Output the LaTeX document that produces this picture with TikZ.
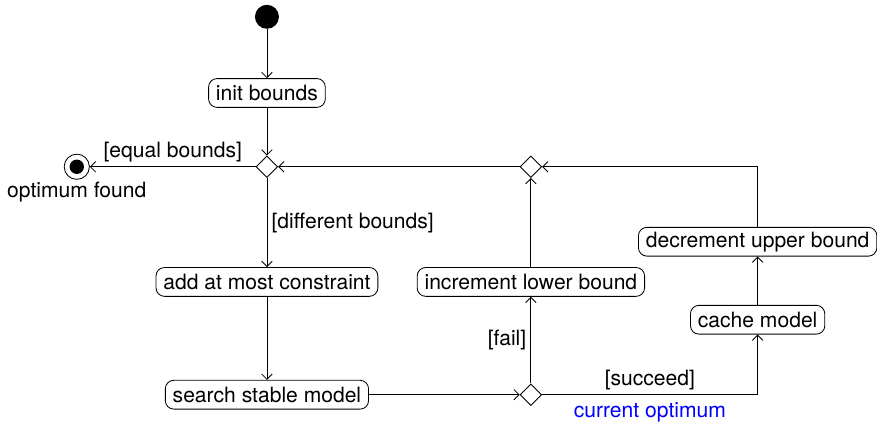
\documentclass[tikz,border=0pt]{standalone}
\usepackage{fontspec}
\setmainfont{TeX Gyre Heros}
\usetikzlibrary{arrows.meta,shapes.geometric}

\begin{document}
\begin{tikzpicture}[
  flow/.style={-{Straight Barb[length=2.5pt,width=5pt]}},
  action/.style={draw,rounded corners=4pt,minimum height=0.48cm,inner xsep=3.5pt,inner ysep=1pt},
  decision/.style={draw,diamond,minimum size=0.36cm,inner sep=0pt},
  guard/.style={inner sep=2pt}]
  \useasboundingbox (0,0) rectangle (14.62,-7.02);
  % start / stop
  \node[circle,fill,minimum size=0.4cm,inner sep=0pt] (start) at (4.45,-0.28) {};
  \node[circle,draw,minimum size=0.42cm,inner sep=0pt] (fin) at (1.28,-2.78) {};
  \fill (fin) circle (0.12);
  \node (finlab) at (1.28,-3.2) {optimum found};
  % actions
  \node[action] (init) at (4.45,-1.55) {init bounds};
  \node[action] (add) at (4.45,-4.7) {add at most constraint};
  \node[action] (search) at (4.45,-6.58) {search stable model};
  \node[action] (inc) at (8.85,-4.7) {increment lower bound};
  \node[action] (cache) at (12.63,-5.33) {cache model};
  \node[action] (dec) at (12.63,-4.03) {decrement upper bound};
  % branches
  \node[decision] (d1) at (4.45,-2.78) {};
  \node[decision] (d3) at (8.85,-2.78) {};
  \node[decision] (d2) at (8.85,-6.58) {};

  \draw[flow] (start) -- (init);
  \draw[flow] (init) -- (d1);
  \draw[flow] (d1) -- node[guard,above] {[equal bounds]} (fin);
  \draw[flow] (d1) -- node[guard,right] {[different bounds]} (add);
  \draw[flow] (add) -- (search);
  \draw[flow] (search) -- (d2);
  \draw[flow] (d2) -- node[guard,left] {[fail]} (inc);
  \draw[flow] (inc) -- (d3);
  \draw[flow] (d2) -| node[guard,pos=0.25,above] {[succeed]}
    node[pos=0.25,below,text=blue] {current optimum} (cache);
  \draw[flow] (cache) -- (dec);
  \draw[flow] (dec) |- (d3);
  \draw[flow] (d3) -- (d1);
\end{tikzpicture}
\end{document}
